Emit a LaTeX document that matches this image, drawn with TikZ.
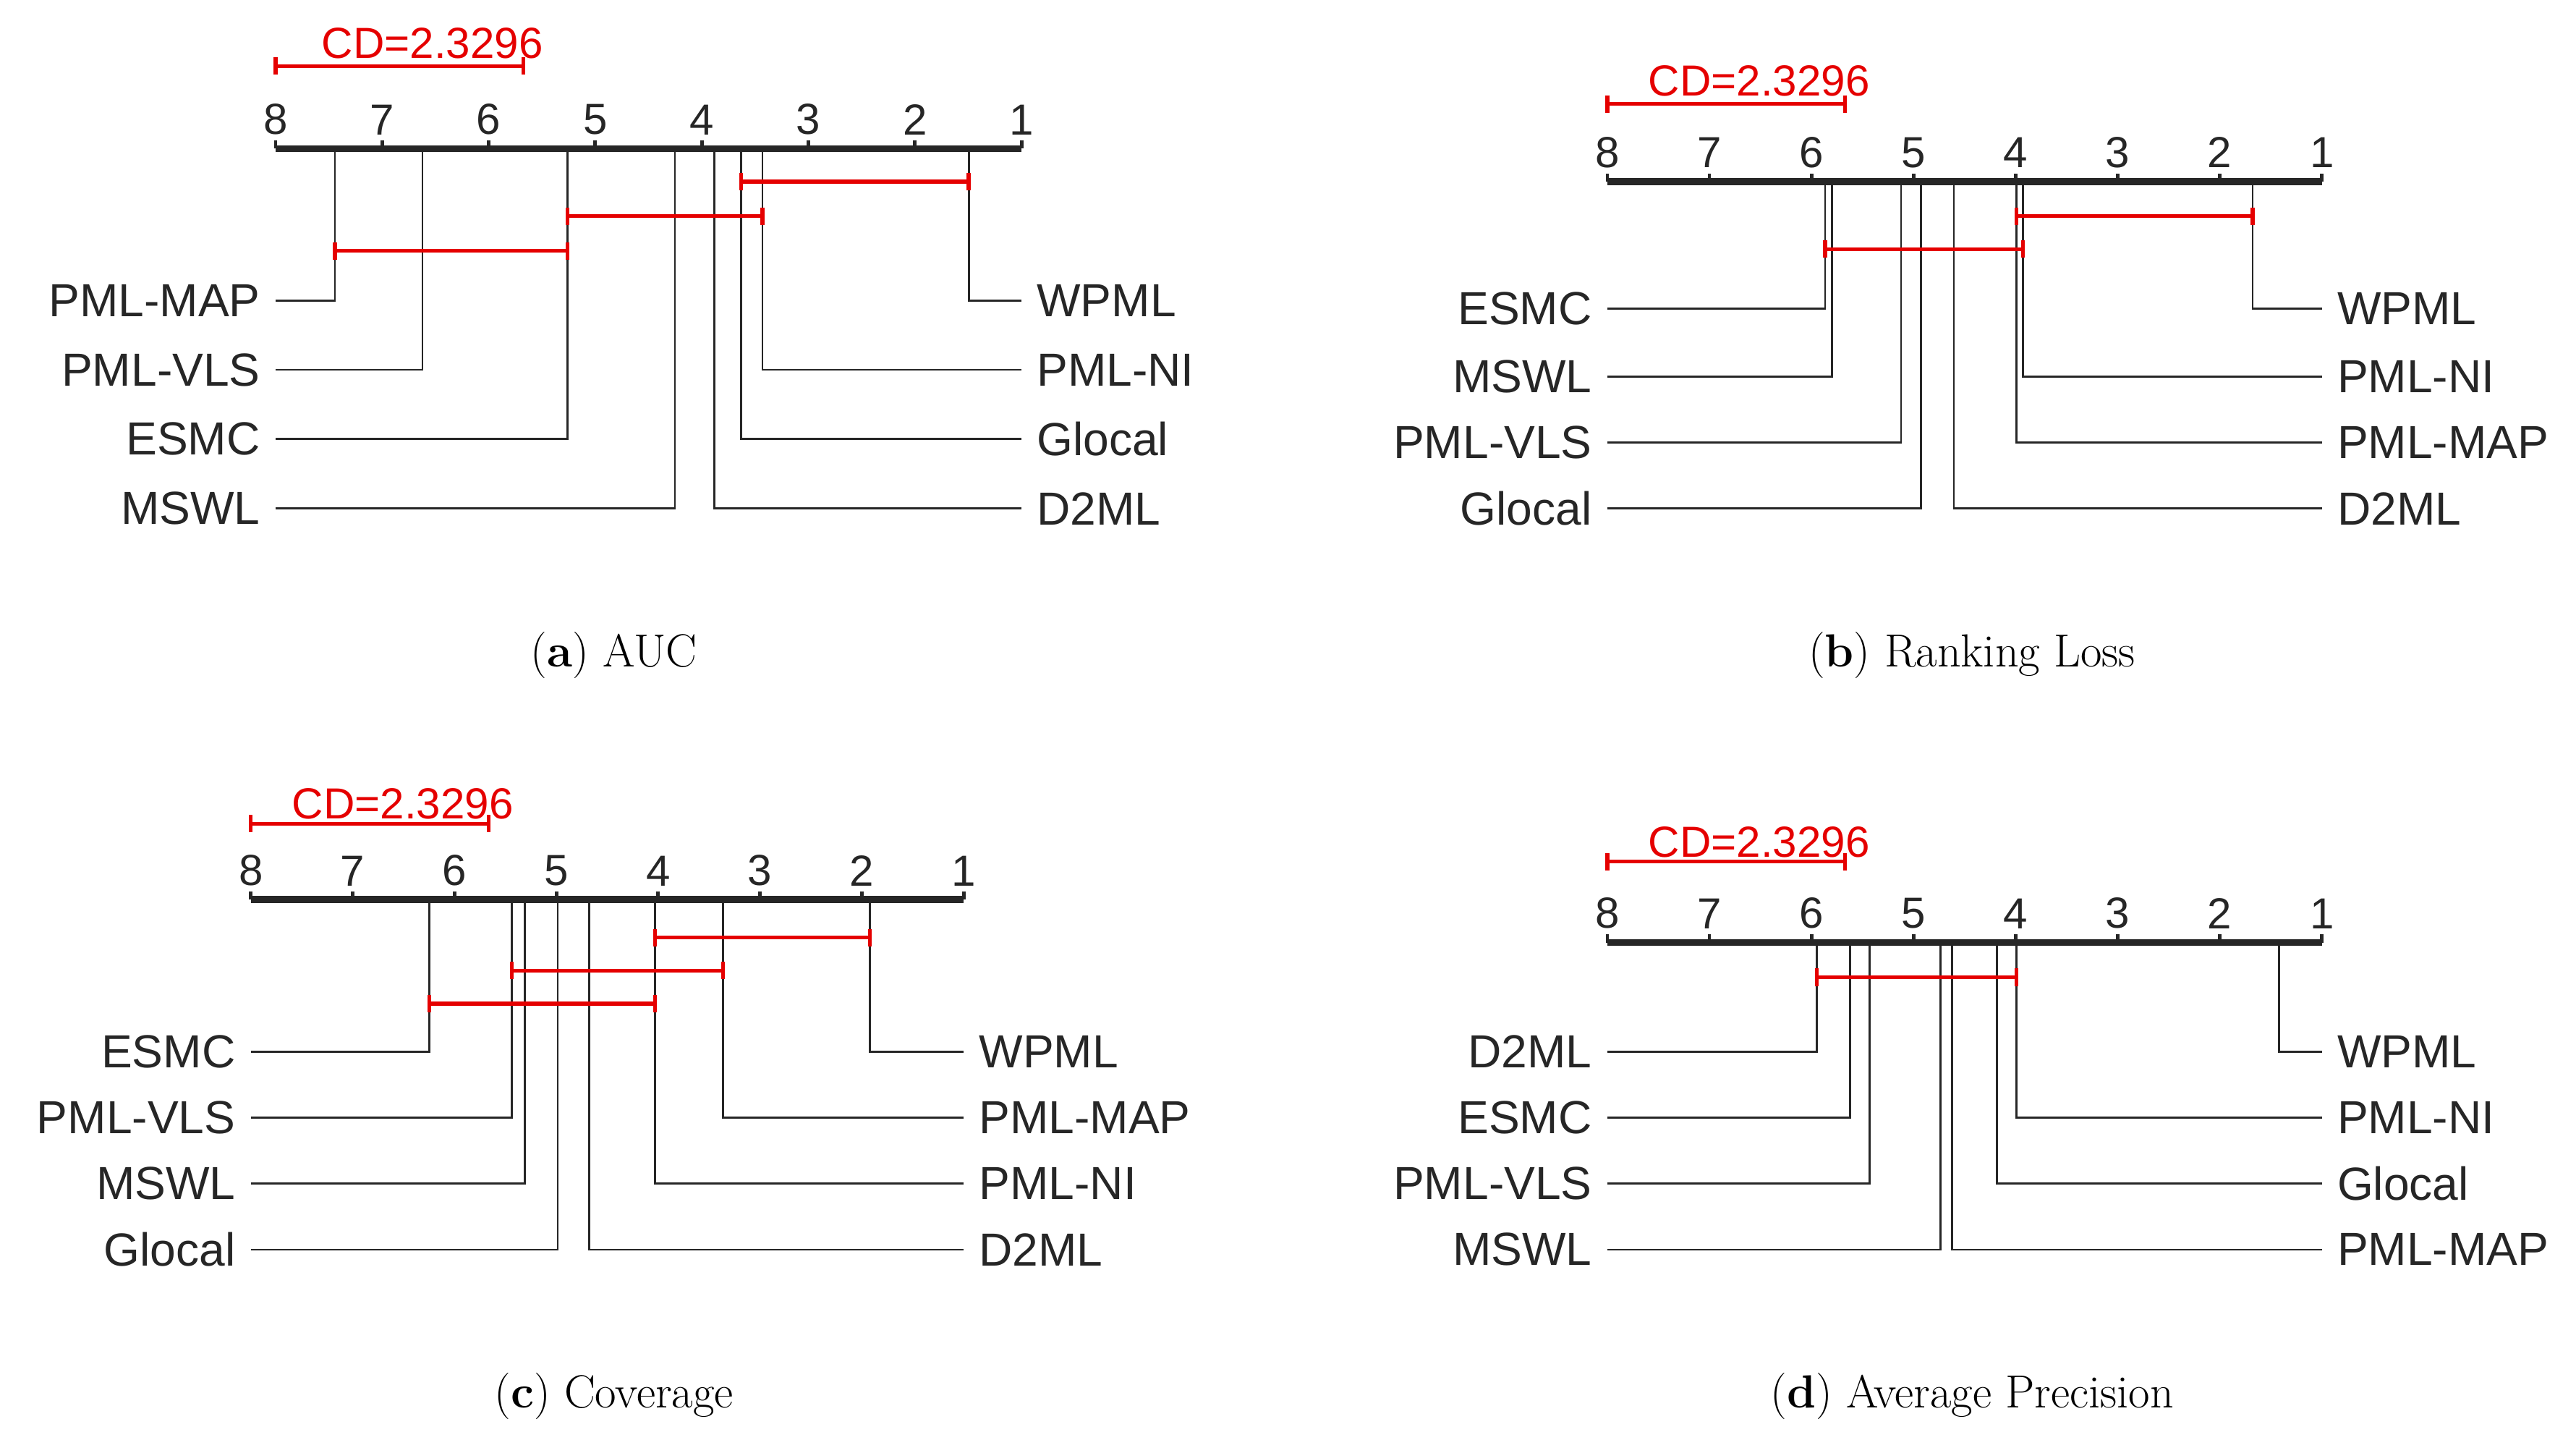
\documentclass[tikz,border=0pt]{standalone}
\usepackage{fontspec}
\setsansfont{Liberation Sans}
\begin{document}
\begin{tikzpicture}[x=0.02cm,y=-0.02cm,
  lab/.style={font=\sffamily\fontsize{16}{19}\selectfont, inner xsep=0.18cm, inner ysep=0pt, text=black!85},
  rk/.style={font=\sffamily\fontsize{15}{18}\selectfont, inner sep=0pt, text=black!85},
  cdt/.style={font=\sffamily\fontsize{15}{18}\selectfont, inner sep=0pt, text=red!90!black},
  axis/.style={line width=2.4pt, black!85},
  conn/.style={line width=0.7pt, black!85},
  grp/.style={line width=1.3pt, red!90!black},
  captxt/.style={font=\fontsize{16}{19}\selectfont}]
\useasboundingbox (0,0) rectangle (1561,872);
\newcommand\myaxis[4]{% name, x8, x1, y
  \coordinate (#1-s) at (#2,#4); \coordinate (#1-e) at (#3,#4);
  \draw[axis] (#1-s) -- (#1-e);
  \foreach \r in {8,...,1}{
    \pgfmathsetmacro\xx{#2+(8-\r)*(#3-#2)/7}
    \draw[line width=1.2pt, black!85] (\xx,#4) -- (\xx,#4-5);
    \node[rk, anchor=south] (#1-r\r) at (\xx,#4-8) {\r};
  }}
\newcommand\lit[6]{% name, text, labelx, y, xr, axisy
  \node[lab, anchor=east] (#1) at (#3,#4) {#2};
  \coordinate (#1-a) at (#5,#6);
  \draw[conn] (#1.east) -| (#1-a);}
\newcommand\rit[6]{%
  \node[lab, anchor=west] (#1) at (#3,#4) {#2};
  \coordinate (#1-a) at (#5,#6);
  \draw[conn] (#1.west) -| (#1-a);}
\newcommand\grpbar[4]{% name, xa, xb, y
  \coordinate (#1-l) at (#2,#4); \coordinate (#1-r) at (#3,#4);
  \draw[grp] (#1-l) -- (#1-r);
  \draw[grp] ([yshift=3pt]#1-l) -- ([yshift=-3pt]#1-l);
  \draw[grp] ([yshift=3pt]#1-r) -- ([yshift=-3pt]#1-r);}

% ---------- (a)
\myaxis{a}{167}{619}{90}
\grpbar{acd}{167}{317}{40}
\node[cdt] (acdt) at (262,26) {CD=2.3296};
\lit{a1}{PML-MAP}{167}{182}{203}{90}
\lit{a2}{PML-VLS}{167}{224}{256}{90}
\lit{a3}{ESMC}{167}{266}{344}{90}
\lit{a4}{MSWL}{167}{308}{409}{90}
\rit{a5}{WPML}{619}{182}{587}{90}
\rit{a6}{PML-NI}{619}{224}{462}{90}
\rit{a7}{Glocal}{619}{266}{449}{90}
\rit{a8}{D2ML}{619}{308}{433}{90}
\grpbar{ab1}{449}{587}{110}
\grpbar{ab2}{344}{462}{131}
\grpbar{ab3}{203}{344}{152}
\node[captxt] (capa) at (372,397) {(\textbf{a}) AUC};

% ---------- (b)
\myaxis{b}{974}{1407}{110}
\grpbar{bcd}{974}{1118}{63}
\node[cdt] (bcdt) at (1066,49) {CD=2.3296};
\lit{b1}{ESMC}{974}{187}{1106}{110}
\lit{b2}{MSWL}{974}{228}{1110}{110}
\lit{b3}{PML-VLS}{974}{268}{1152}{110}
\lit{b4}{Glocal}{974}{308}{1164}{110}
\rit{b5}{WPML}{1407}{187}{1365}{110}
\rit{b6}{PML-NI}{1407}{228}{1226}{110}
\rit{b7}{PML-MAP}{1407}{268}{1222}{110}
\rit{b8}{D2ML}{1407}{308}{1184}{110}
\grpbar{bb1}{1222}{1365}{131}
\grpbar{bb2}{1106}{1226}{151}
\node[captxt] (capb) at (1195,397) {(\textbf{b}) Ranking Loss};

% ---------- (c)
\myaxis{c}{152}{584}{545}
\grpbar{ccd}{152}{296}{499}
\node[cdt] (ccdt) at (244,487) {CD=2.3296};
\lit{c1}{ESMC}{152}{637}{260}{545}
\lit{c2}{PML-VLS}{152}{677}{310}{545}
\lit{c3}{MSWL}{152}{717}{318}{545}
\lit{c4}{Glocal}{152}{757}{338}{545}
\rit{c5}{WPML}{584}{637}{527}{545}
\rit{c6}{PML-MAP}{584}{677}{438}{545}
\rit{c7}{PML-NI}{584}{717}{397}{545}
\rit{c8}{D2ML}{584}{757}{357}{545}
\grpbar{cb1}{397}{527}{568}
\grpbar{cb2}{310}{438}{588}
\grpbar{cb3}{260}{397}{608}
\node[captxt] (capc) at (372,846) {(\textbf{c}) Coverage};

% ---------- (d)
\myaxis{d}{974}{1407}{571}
\grpbar{dcd}{974}{1118}{522}
\node[cdt] (dcdt) at (1066,510) {CD=2.3296};
\lit{d1}{D2ML}{974}{637}{1101}{571}
\lit{d2}{ESMC}{974}{677}{1121}{571}
\lit{d3}{PML-VLS}{974}{717}{1133}{571}
\lit{d4}{MSWL}{974}{757}{1176}{571}
\rit{d5}{WPML}{1407}{637}{1381}{571}
\rit{d6}{PML-NI}{1407}{677}{1222}{571}
\rit{d7}{Glocal}{1407}{717}{1210}{571}
\rit{d8}{PML-MAP}{1407}{757}{1183}{571}
\grpbar{db1}{1101}{1222}{592}
\node[captxt] (capd) at (1195,846) {(\textbf{d}) Average Precision};
\end{tikzpicture}
\end{document}
